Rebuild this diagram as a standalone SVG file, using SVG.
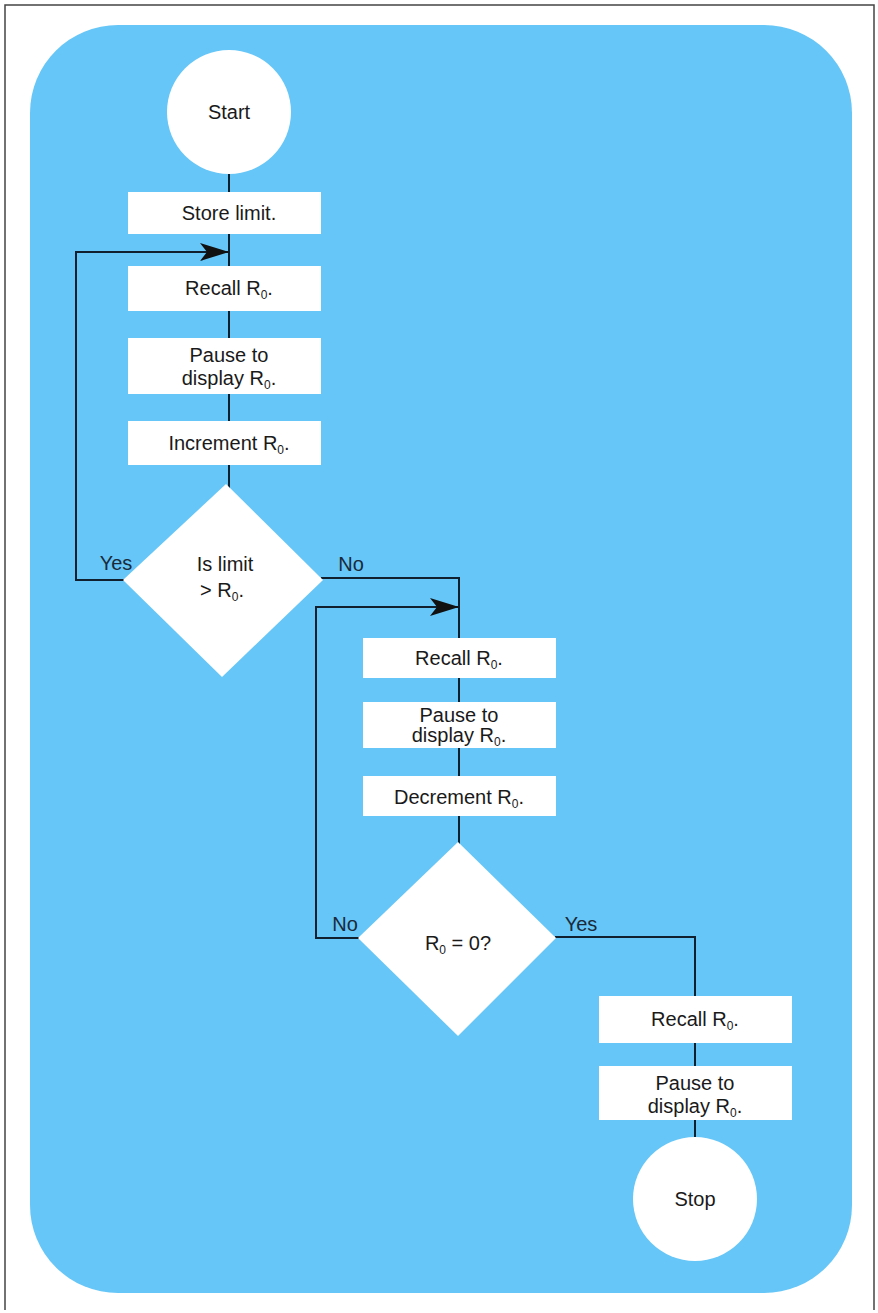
<svg xmlns="http://www.w3.org/2000/svg" width="878" height="1313" viewBox="0 0 878 1313">
<style>
.bg{fill:#66c6f7}
.box{fill:#ffffff}
.t{font-family:"Liberation Sans",Arial,sans-serif;font-size:20px;fill:#1a1a1a;text-anchor:middle}
.lbl{font-family:"Liberation Sans",Arial,sans-serif;font-size:20px;fill:#1a2a3a;text-anchor:middle}
.s{font-size:12px}
.ln{fill:none;stroke:#10202e;stroke-width:2}
.frame{fill:none;stroke:#444;stroke-width:1.5}
</style>
<defs>
<marker id="arr" markerWidth="30" markerHeight="20" refX="29" refY="10" orient="auto" markerUnits="userSpaceOnUse">
<path d="M0,1 L29,10 L0,19 L7,10 Z" fill="#111"/>
</marker>
</defs>
<rect x="0" y="0" width="878" height="1313" fill="#ffffff"/>
<path class="frame" d="M5,1310 V5 H874 V1310"/>
<rect class="bg" x="30" y="25" width="822" height="1268" rx="88" ry="88"/>

<g id="connectors">
<line class="ln" x1="229" y1="174" x2="229" y2="192"/>
<line class="ln" x1="229" y1="234" x2="229" y2="266"/>
<line class="ln" x1="229" y1="311" x2="229" y2="338"/>
<line class="ln" x1="229" y1="394" x2="229" y2="421"/>
<line class="ln" x1="229" y1="465" x2="229" y2="490"/>
<path class="ln" d="M124,580 H76 V252 H229" marker-end="url(#arr)"/>
<path class="ln" d="M321,578 H459 V638"/>
<path class="ln" d="M359,938 H316 V607 H459" marker-end="url(#arr)"/>
<line class="ln" x1="459" y1="678" x2="459" y2="702"/>
<line class="ln" x1="459" y1="748" x2="459" y2="776"/>
<line class="ln" x1="459" y1="816" x2="459" y2="846"/>
<path class="ln" d="M555,937 H695 V996"/>
<line class="ln" x1="695" y1="1043" x2="695" y2="1066"/>
<line class="ln" x1="695" y1="1120" x2="695" y2="1140"/>
</g>

<g id="start">
<circle class="box" cx="229" cy="112" r="62"/>
<text class="t" x="229" y="119">Start</text>
</g>
<g id="store">
<rect class="box" x="128" y="192" width="193" height="42"/>
<text class="t" x="229" y="220">Store limit.</text>
</g>
<g id="recall1">
<rect class="box" x="128" y="266" width="193" height="45"/>
<text class="t" x="229" y="295">Recall R<tspan class="s" dy="4">0</tspan><tspan dy="-4">.</tspan></text>
</g>
<g id="pause1">
<rect class="box" x="128" y="338" width="193" height="56"/>
<text class="t" x="229" y="362">Pause to</text>
<text class="t" x="229" y="385">display R<tspan class="s" dy="4">0</tspan><tspan dy="-4">.</tspan></text>
</g>
<g id="increment">
<rect class="box" x="128" y="421" width="193" height="44"/>
<text class="t" x="229" y="450">Increment R<tspan class="s" dy="4">0</tspan><tspan dy="-4">.</tspan></text>
</g>
<g id="decision1">
<polygon class="box" points="226,484 323,580 222,677 123,580"/>
<text class="t" x="225" y="571">Is limit</text>
<text class="t" x="222" y="597">&gt; R<tspan class="s" dy="4">0</tspan><tspan dy="-4">.</tspan></text>
<text class="lbl" x="116" y="570">Yes</text>
<text class="lbl" x="351" y="571">No</text>
</g>
<g id="recall2">
<rect class="box" x="363" y="638" width="193" height="40"/>
<text class="t" x="459" y="665">Recall R<tspan class="s" dy="4">0</tspan><tspan dy="-4">.</tspan></text>
</g>
<g id="pause2">
<rect class="box" x="363" y="702" width="193" height="46"/>
<text class="t" x="459" y="722">Pause to</text>
<text class="t" x="459" y="742">display R<tspan class="s" dy="4">0</tspan><tspan dy="-4">.</tspan></text>
</g>
<g id="decrement">
<rect class="box" x="363" y="776" width="193" height="40"/>
<text class="t" x="459" y="804">Decrement R<tspan class="s" dy="4">0</tspan><tspan dy="-4">.</tspan></text>
</g>
<g id="decision2">
<polygon class="box" points="458,842 556,938 458,1036 358,938"/>
<text class="t" x="458" y="950">R<tspan class="s" dy="4">0</tspan><tspan dy="-4"> = 0?</tspan></text>
<text class="lbl" x="345" y="931">No</text>
<text class="lbl" x="581" y="931">Yes</text>
</g>
<g id="recall3">
<rect class="box" x="599" y="996" width="193" height="47"/>
<text class="t" x="695" y="1026">Recall R<tspan class="s" dy="4">0</tspan><tspan dy="-4">.</tspan></text>
</g>
<g id="pause3">
<rect class="box" x="599" y="1066" width="193" height="54"/>
<text class="t" x="695" y="1090">Pause to</text>
<text class="t" x="695" y="1113">display R<tspan class="s" dy="4">0</tspan><tspan dy="-4">.</tspan></text>
</g>
<g id="stop">
<circle class="box" cx="695" cy="1199" r="62"/>
<text class="t" x="695" y="1206">Stop</text>
</g>
</svg>
